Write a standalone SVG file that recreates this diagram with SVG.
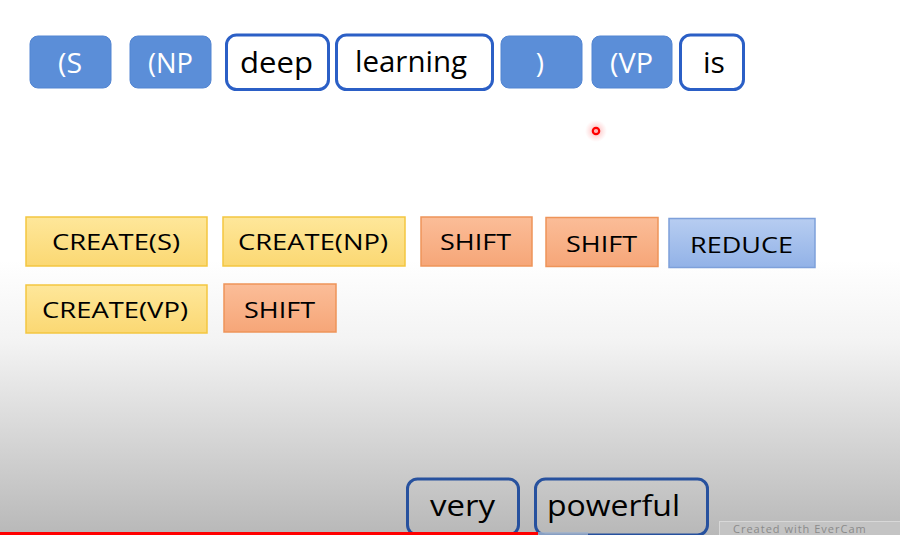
<svg xmlns="http://www.w3.org/2000/svg" width="900" height="535" viewBox="0 0 900 535">
  <defs>
    <linearGradient id="bg" x1="0" y1="260" x2="0" y2="535" gradientUnits="userSpaceOnUse">
      <stop offset="0" stop-color="#ffffff"/>
      <stop offset="0.3" stop-color="#f3f3f3"/>
      <stop offset="1" stop-color="#b8b8b8"/>
    </linearGradient>
    <linearGradient id="yellow" x1="0" y1="0" x2="0" y2="1">
      <stop offset="0" stop-color="#fee79a"/>
      <stop offset="1" stop-color="#fbd873"/>
    </linearGradient>
    <linearGradient id="orange" x1="0" y1="0" x2="0" y2="1">
      <stop offset="0" stop-color="#fbbd98"/>
      <stop offset="1" stop-color="#f6a678"/>
    </linearGradient>
    <linearGradient id="lightblue" x1="0" y1="0" x2="0" y2="1">
      <stop offset="0" stop-color="#b7cdf1"/>
      <stop offset="1" stop-color="#92b2e7"/>
    </linearGradient>
    <radialGradient id="halo">
      <stop offset="0" stop-color="#ff6b6b" stop-opacity="0.55"/>
      <stop offset="1" stop-color="#ff9a9a" stop-opacity="0"/>
    </radialGradient>
    <style>
      text { font-family: "Open Sans", "Liberation Sans", sans-serif; }
      .bracket rect { fill: #5b8ed8; stroke: #5285d2; stroke-width: 1; }
      .bracket text { fill: #ffffff; font-size: 28px; text-anchor: middle; }
      .word rect { fill: #ffffff; stroke: #2b5fc6; stroke-width: 3; }
      .word text { fill: #000000; font-size: 29px; text-anchor: middle; font-weight: 500; }
      .pending rect { fill: none; stroke: #27519e; stroke-width: 3; }
      .pending text { fill: #000000; font-size: 29px; text-anchor: middle; font-weight: 500; }
      .create rect { fill: url(#yellow); stroke: #f3c640; stroke-width: 1.5; }
      .shift rect { fill: url(#orange); stroke: #ee9459; stroke-width: 1.5; }
      .reduce rect { fill: url(#lightblue); stroke: #7ea0da; stroke-width: 1.5; }
      .action text { fill: #000000; font-size: 21px; text-anchor: middle; font-weight: 500; }
    </style>
  </defs>

  <!-- background -->
  <rect x="0" y="0" width="900" height="535" fill="url(#bg)"/>

  <!-- stack / buffer tokens -->
  <g id="tok-S" class="bracket">
    <rect x="30" y="36" width="81" height="52" rx="8"/>
    <text x="70" y="73" textLength="24" lengthAdjust="spacingAndGlyphs">(S</text>
  </g>
  <g id="tok-NP" class="bracket">
    <rect x="130" y="36" width="81" height="52" rx="8"/>
    <text x="170.5" y="73" textLength="45" lengthAdjust="spacingAndGlyphs">(NP</text>
  </g>
  <g id="tok-deep" class="word">
    <rect x="226.5" y="35" width="102" height="54.5" rx="10"/>
    <text x="276.5" y="73" textLength="73" lengthAdjust="spacingAndGlyphs">deep</text>
  </g>
  <g id="tok-learning" class="word">
    <rect x="336.5" y="35" width="156" height="54.5" rx="10"/>
    <text x="411" y="72" textLength="112" lengthAdjust="spacingAndGlyphs">learning</text>
  </g>
  <g id="tok-close" class="bracket">
    <rect x="501" y="36" width="81" height="52" rx="8"/>
    <text x="540" y="73">)</text>
  </g>
  <g id="tok-VP" class="bracket">
    <rect x="592" y="36" width="80" height="52" rx="8"/>
    <text x="631.5" y="73" textLength="43" lengthAdjust="spacingAndGlyphs">(VP</text>
  </g>
  <g id="tok-is" class="word">
    <rect x="680.5" y="35" width="63" height="54.5" rx="10"/>
    <text x="714" y="73" textLength="22" lengthAdjust="spacingAndGlyphs">is</text>
  </g>

  <!-- pointer dot -->
  <g id="pointer">
    <circle cx="596" cy="131" r="11" fill="url(#halo)"/>
    <circle cx="596" cy="131" r="3.2" fill="none" stroke="#ff0000" stroke-width="2.2"/>
  </g>

  <!-- action sequence, row 1 -->
  <g id="act-create-s" class="action create">
    <rect x="26" y="217" width="181" height="49"/>
    <text x="116" y="250" textLength="128" lengthAdjust="spacingAndGlyphs">CREATE(S)</text>
  </g>
  <g id="act-create-np" class="action create">
    <rect x="223" y="217" width="182" height="49"/>
    <text x="313" y="250" textLength="150" lengthAdjust="spacingAndGlyphs">CREATE(NP)</text>
  </g>
  <g id="act-shift-1" class="action shift">
    <rect x="421" y="217" width="111" height="49"/>
    <text x="475.5" y="250" textLength="71" lengthAdjust="spacingAndGlyphs">SHIFT</text>
  </g>
  <g id="act-shift-2" class="action shift">
    <rect x="546" y="217.5" width="112" height="49"/>
    <text x="601.5" y="251.5" textLength="71" lengthAdjust="spacingAndGlyphs">SHIFT</text>
  </g>
  <g id="act-reduce" class="action reduce">
    <rect x="669" y="218.5" width="146" height="49"/>
    <text x="741.5" y="253" textLength="103" lengthAdjust="spacingAndGlyphs">REDUCE</text>
  </g>

  <!-- action sequence, row 2 -->
  <g id="act-create-vp" class="action create">
    <rect x="26" y="285" width="181" height="48"/>
    <text x="115" y="318" textLength="146" lengthAdjust="spacingAndGlyphs">CREATE(VP)</text>
  </g>
  <g id="act-shift-3" class="action shift">
    <rect x="224" y="284" width="112" height="48"/>
    <text x="279.5" y="318" textLength="71" lengthAdjust="spacingAndGlyphs">SHIFT</text>
  </g>

  <!-- remaining buffer words -->
  <g id="tok-very" class="pending">
    <rect x="407.5" y="479" width="111" height="56" rx="10"/>
    <text x="462.5" y="516" textLength="65" lengthAdjust="spacingAndGlyphs">very</text>
  </g>
  <g id="tok-powerful" class="pending">
    <rect x="535.5" y="479" width="172" height="56" rx="10"/>
    <text x="613.5" y="516" textLength="133" lengthAdjust="spacingAndGlyphs">powerful</text>
  </g>

  <!-- footer badge -->
  <g id="badge">
    <rect x="719.5" y="521.5" width="190" height="20" fill="#c4c4c4" stroke="#d8d8d8" stroke-width="1"/>
    <text x="733" y="533" font-size="11" fill="#8a8a8a" letter-spacing="1">Created with EverCam</text>
  </g>

  <!-- playback bar -->
  <g id="progress">
    <rect x="0" y="532" width="538" height="3" fill="#ff0000"/>
    <rect x="538" y="532" width="50" height="3" fill="#9fb2cc" opacity="0.8"/>
  </g>
</svg>
